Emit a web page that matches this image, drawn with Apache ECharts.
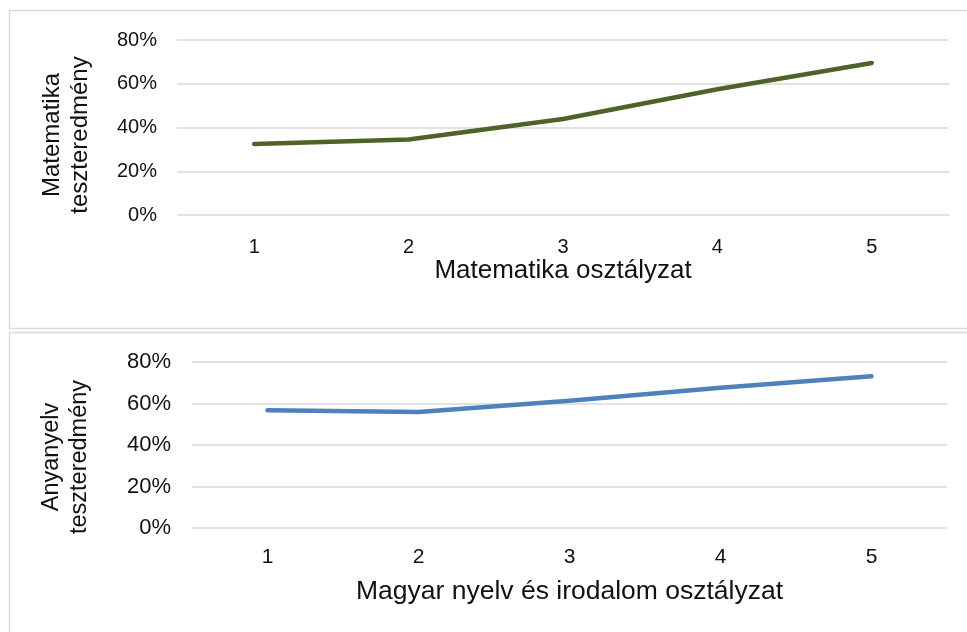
<!DOCTYPE html>
<html>
<head>
<meta charset="utf-8">
<style>
  html, body { margin: 0; padding: 0; background: #fff; }
  #chart { width: 967px; height: 632px; }
</style>
<script src="https://cdn.jsdelivr.net/npm/echarts@6/dist/echarts.min.js"></script>
</head>
<body>
<div id="chart"></div>
<script>
// Grade categories shared by both panels
const grades = ['1', '2', '3', '4', '5'];
// Average test score (%) by school grade
const mathScores = [32.5, 34.5, 43.9, 57.5, 69.5];
const langScores = [56.7, 55.9, 61.3, 67.6, 73.1];
// Value-axis ticks
const yTicks = [0, 20, 40, 60, 80];

const FONT = '"Liberation Sans", Arial, sans-serif';
const TEXT = '#111';
const GRID_COLOR = '#d9d9d9';

const chart = echarts.init(document.getElementById('chart'), null, { renderer: 'canvas' });

function valueAxis(gridIndex, margin, fontSize) {
  return {
    type: 'value', gridIndex,
    min: yTicks[0], max: yTicks[yTicks.length - 1], interval: yTicks[1] - yTicks[0],
    axisLine: { show: false }, axisTick: { show: false },
    axisLabel: { formatter: v => v + '%', color: TEXT, fontFamily: FONT, fontSize, margin },
    splitLine: { lineStyle: { color: GRID_COLOR, width: 1.5 } }
  };
}

function categoryAxis(gridIndex, name, margin, nameGap, fontSize, nameSize) {
  return {
    type: 'category', gridIndex, data: grades, boundaryGap: true,
    axisLine: { show: false }, axisTick: { show: false },
    axisLabel: { color: TEXT, fontFamily: FONT, fontSize, margin },
    name, nameLocation: 'middle', nameGap,
    nameTextStyle: { color: TEXT, fontFamily: FONT, fontSize: nameSize }
  };
}

function yTitle(x, y, lines, size) {
  return {
    type: 'text', x, y, rotation: Math.PI / 2,
    style: {
      text: lines.join('\n'), fill: TEXT, font: size + 'px ' + FONT,
      align: 'center', verticalAlign: 'middle', lineHeight: 28
    }
  };
}

chart.setOption({
  animation: false,
  backgroundColor: '#fff',
  grid: [
    { left: 177, right: 18, top: 40, height: 175 },
    { left: 192, right: 20, top: 362, height: 166 }
  ],
  xAxis: [
    categoryAxis(0, 'Matematika osztályzat', 22, 42, 20, 26),
    categoryAxis(1, 'Magyar nyelv és irodalom osztályzat', 19, 50, 21, 26.5)
  ],
  yAxis: [
    valueAxis(0, 20, 20),
    valueAxis(1, 21, 22)
  ],
  graphic: [
    { type: 'rect', shape: { x: 9.5, y: 10.5, width: 970, height: 318 },
      style: { fill: 'none', stroke: GRID_COLOR, lineWidth: 1.5 }, silent: true },
    { type: 'rect', shape: { x: 9.5, y: 332.5, width: 970, height: 320 },
      style: { fill: 'none', stroke: GRID_COLOR, lineWidth: 1.5 }, silent: true },
    yTitle(66, 135, ['Matematika', 'teszteredmény'], 24),
    yTitle(66, 457, ['Anyanyelv', 'teszteredmény'], 23.5)
  ],
  series: [
    { type: 'line', xAxisIndex: 0, yAxisIndex: 0, data: mathScores,
      showSymbol: false, lineStyle: { color: '#4f6228', width: 4.5, cap: 'round', join: 'round' } },
    { type: 'line', xAxisIndex: 1, yAxisIndex: 1, data: langScores,
      showSymbol: false, lineStyle: { color: '#4f81bd', width: 4.5, cap: 'round', join: 'round' } }
  ]
});
</script>
</body>
</html>
